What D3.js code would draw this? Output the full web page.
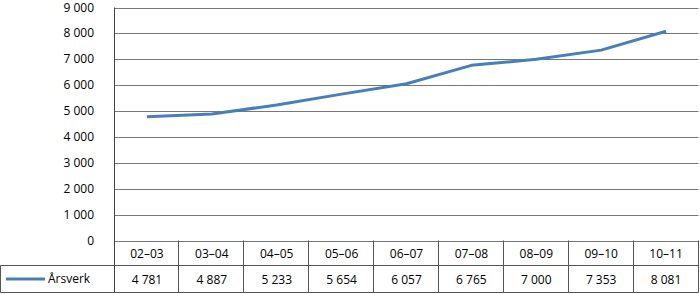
<!DOCTYPE html>
<html><head><meta charset="utf-8">
<script src="https://cdn.jsdelivr.net/npm/d3@7"></script>
<style>body{margin:0;background:#fff}svg{display:block}text{font-family:"Open Sans","Noto Sans",sans-serif;font-size:12px;fill:#000}</style>
</head><body><svg id="c" width="700" height="294"></svg>
<script>
const categories = ["02–03","03–04","04–05","05–06","06–07","07–08","08–09","09–10","10–11"];
const seriesName = "Årsverk";
const values = [4781,4887,5233,5654,6057,6765,7000,7353,8081];
const yTicks = [0,1000,2000,3000,4000,5000,6000,7000,8000,9000];

(function(){
const svg = d3.select("#c");
const pLeft = 114.5, pRight = 698.5, pTop = 7.5, pBottom = 240.5;
const row2Bottom = 292.5;
const fmtS = v => d3.format(",")(v).replace(/,/g, " ");

const x = d3.scaleBand().domain(categories).range([pLeft, pRight]);
const y = d3.scaleLinear().domain([0, 9000]).range([pBottom, pTop]);

svg.append("g").selectAll("line").data(yTicks).join("line")
  .attr("x1", pLeft).attr("x2", pRight)
  .attr("y1", d => Math.round(y(d)) + 0.5).attr("y2", d => Math.round(y(d)) + 0.5)
  .attr("stroke", "#777").attr("stroke-width", 1);
svg.append("g").selectAll("text").data(yTicks).join("text")
  .attr("x", 94).attr("y", d => y(d) + 4).attr("text-anchor", "end")
  .text(d => fmtS(d));

svg.append("line").attr("x1", pLeft).attr("x2", pLeft).attr("y1", pTop).attr("y2", row2Bottom).attr("stroke", "#444");

const r1Top = pBottom, r2Top = 265.5;
const tg = svg.append("g").attr("stroke", "#555").attr("stroke-width", 1);
tg.append("line").attr("x1", 0.5).attr("x2", pRight).attr("y1", r2Top).attr("y2", r2Top);
tg.append("line").attr("x1", 0.5).attr("x2", pRight).attr("y1", row2Bottom).attr("y2", row2Bottom);
tg.append("line").attr("x1", 0.5).attr("x2", 0.5).attr("y1", r2Top).attr("y2", row2Bottom);
tg.selectAll("line.v").data(categories).join("line").attr("class", "v")
  .attr("x1", d => Math.round(x(d) + x.bandwidth()) - 0.5).attr("x2", d => Math.round(x(d) + x.bandwidth()) - 0.5)
  .attr("y1", r1Top).attr("y2", row2Bottom);

svg.append("g").selectAll("text").data(categories).join("text")
  .attr("x", d => x(d) + x.bandwidth() / 2).attr("y", 258).attr("text-anchor", "middle").text(d => d);
svg.append("g").selectAll("text").data(values).join("text")
  .attr("x", (d, i) => x(categories[i]) + x.bandwidth() / 2).attr("y", 284).attr("text-anchor", "middle").text(d => fmtS(d));

svg.append("line").attr("x1", 6).attr("x2", 45).attr("y1", 279).attr("y2", 279).attr("stroke", "#4a7ebb").attr("stroke-width", 3);
svg.append("text").attr("x", 48).attr("y", 283).text(seriesName);

const line = d3.line().x((d, i) => x(categories[i]) + x.bandwidth() / 2).y(d => y(d));
svg.append("path").datum(values).attr("d", line).attr("fill", "none")
  .attr("stroke", "#4a7ebb").attr("stroke-width", 3).attr("stroke-linejoin", "round");
})();
</script></body></html>
